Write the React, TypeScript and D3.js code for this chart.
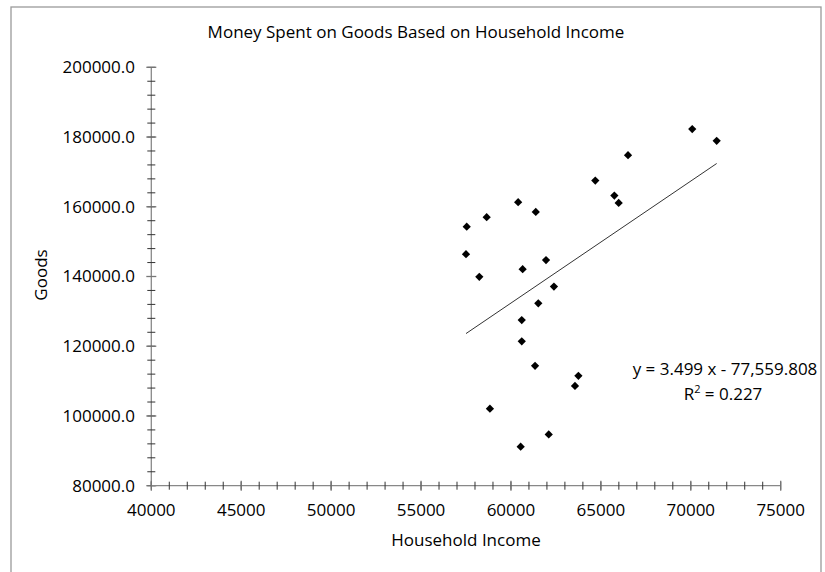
import React from "react";
import * as d3 from "d3";

// Household income (x) and money spent on goods (y)
const income = [
  60400, 61380, 58650, 57540, 57500, 61950, 60650, 58240, 62390, 61520,
  60600, 60600, 61340, 63750, 63560, 58830, 62100, 60540, 70080, 66510,
  64690, 65750, 65990, 71440,
];
const goods = [
  161300, 158500, 157000, 154300, 146400, 144700, 142100, 139900, 137100, 132300,
  127500, 121400, 114400, 111500, 108600, 102100, 94700, 91200, 182300, 174800,
  167500, 163200, 161100, 178900,
];

// Linear trend: y = slope * x + intercept
const trendSlope = 3.499;
const trendIntercept = -77559.808;
const trendR2 = 0.227;

const xTicks = [40000, 45000, 50000, 55000, 60000, 65000, 70000, 75000];
const yTicks = [80000, 100000, 120000, 140000, 160000, 180000, 200000];

const W = 825;
const H = 572;
const FONT = "'Open Sans', 'Liberation Sans', sans-serif";

export default function App() {
  const x = d3.scaleLinear().domain([40000, 75000]).range([151.3, 780.7]);
  const y = d3.scaleLinear().domain([80000, 200000]).range([485.7, 67.3]);

  const xMinor = d3.range(40000, 75001, 1000);
  const yMinor = d3.range(80000, 200001, 4000);

  const diamond = d3.symbol(d3.symbolSquare, 34)();

  const xMin = d3.min(income) as number;
  const xMax = d3.max(income) as number;
  const trend = d3.line<number>()
    .x((v) => x(v))
    .y((v) => y(trendSlope * v + trendIntercept));

  const fmtEq = (n: number) => d3.format(",.3f")(Math.abs(n));

  return (
    <svg
      width={W}
      height={H}
      style={{ position: "fixed", left: 0, top: 0, background: "#fff" }}
      fontFamily={FONT}
    >
      <rect x={11} y={7} width={810} height={600} fill="#fff" stroke="#9a9a9a" strokeWidth={1.3} />

      <text x={416} y={38} textAnchor="middle" fontSize={17} fill="#000">
        Money Spent on Goods Based on Household Income
      </text>

      {/* y axis */}
      <line x1={x(40000)} x2={x(40000)} y1={y(80000)} y2={y(200000)} stroke="#888" strokeWidth={1.3} />
      {yMinor.map((v) => (
        <line key={"ym" + v} x1={x(40000) - 4} x2={x(40000) + 4} y1={y(v)} y2={y(v)} stroke="#333" strokeWidth={1} />
      ))}
      {yTicks.map((v) => (
        <g key={"yt" + v}>
          <line x1={x(40000) - 5} x2={x(40000) + 5} y1={y(v)} y2={y(v)} stroke="#777" strokeWidth={1.3} />
          <text x={135} y={y(v)} dy="0.35em" textAnchor="end" fontSize={17} fill="#000">
            {d3.format(".1f")(v)}
          </text>
        </g>
      ))}

      {/* x axis */}
      <line x1={x(40000)} x2={x(75000)} y1={y(80000)} y2={y(80000)} stroke="#888" strokeWidth={1.3} />
      {xMinor.map((v) => (
        <line key={"xm" + v} x1={x(v)} x2={x(v)} y1={y(80000) - 4} y2={y(80000) + 4} stroke="#333" strokeWidth={1} />
      ))}
      {xTicks.map((v) => (
        <g key={"xt" + v}>
          <line x1={x(v)} x2={x(v)} y1={y(80000) - 5} y2={y(80000) + 5} stroke="#777" strokeWidth={1.3} />
          <text x={x(v)} y={516} textAnchor="middle" fontSize={17} fill="#000">
            {v}
          </text>
        </g>
      ))}

      <text x={466} y={546} textAnchor="middle" fontSize={17} fill="#000">
        Household Income
      </text>
      <text transform="translate(47,275) rotate(-90)" textAnchor="middle" fontSize={17} fill="#000">
        Goods
      </text>

      {/* trend line */}
      <path d={trend([xMin, xMax]) as string} fill="none" stroke="#333" strokeWidth={1} />

      {/* data points */}
      {income.map((v, i) => (
        <path
          key={"p" + i}
          d={diamond as string}
          transform={`translate(${x(v)},${y(goods[i])}) rotate(45)`}
          fill="#000"
        />
      ))}

      <text x={725} y={375} textAnchor="middle" fontSize={17} fill="#000">
        {`y = ${trendSlope.toFixed(3)} x ${trendIntercept < 0 ? "-" : "+"} ${fmtEq(trendIntercept)}`}
      </text>
      <text x={723} y={400} textAnchor="middle" fontSize={17} fill="#000">
        R<tspan fontSize={11} dy={-7}>2</tspan>
        <tspan dy={7}>{` = ${trendR2.toFixed(3)}`}</tspan>
      </text>
    </svg>
  );
}
